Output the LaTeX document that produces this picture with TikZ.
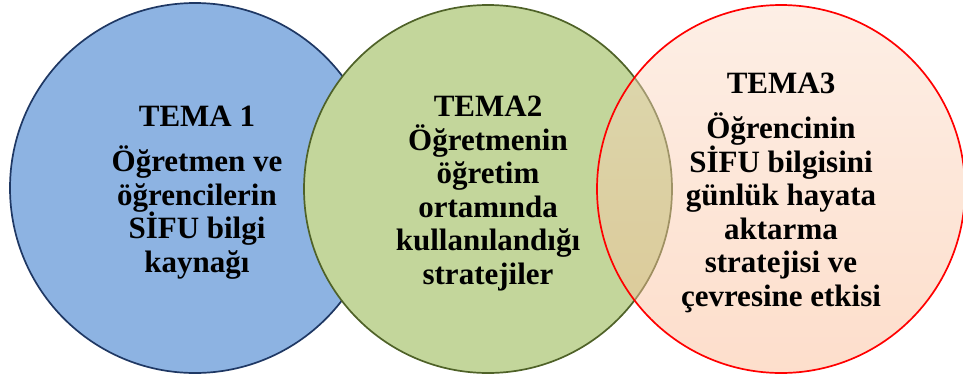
\documentclass[tikz,border=0pt]{standalone}
\usepackage{fontspec}
\setmainfont{Liberation Serif}
\definecolor{temablue}{RGB}{141,179,226}
\definecolor{temabluedark}{RGB}{31,56,100}
\definecolor{temagreen}{RGB}{195,214,155}
\definecolor{temagreendark}{RGB}{79,98,40}
\definecolor{temapeachtop}{RGB}{250,220,200}
\definecolor{temapeachbot}{RGB}{250,185,145}
\begin{document}
\begin{tikzpicture}[x=1pt,y=-1pt,
  tema/.style={circle, inner sep=0pt, line width=1.7pt},
  ttext/.style={align=center, inner sep=0pt, font=\fontsize{31}{33.5}\selectfont\bfseries}]
\useasboundingbox (0,0) rectangle (963,378);
\node[tema, minimum size=370pt, fill=temablue, draw=temabluedark] (c1) at (195,188){};
\node[tema, minimum size=368pt, fill=temagreen, draw=temagreendark] (c2) at (488,189){};
\node[tema, minimum size=368pt, top color=temapeachtop, bottom color=temapeachbot, fill opacity=0.47, draw=red, draw opacity=1] (c3) at (781,189){};
\node[ttext, anchor=north] (t1) at (197,106) {TEMA 1\\[11.5pt]Öğretmen ve\\öğrencilerin\\SİFU bilgi\\kaynağı};
\node[ttext, anchor=north] (t2) at (488,96) {TEMA2\\Öğretmenin\\öğretim\\ortamında\\kullanılandığı\\stratejiler};
\node[ttext, anchor=north] (t3) at (781,73) {TEMA3\\[11.5pt]Öğrencinin\\SİFU bilgisini\\günlük hayata\\aktarma\\stratejisi ve\\çevresine etkisi};
\end{tikzpicture}
\end{document}
